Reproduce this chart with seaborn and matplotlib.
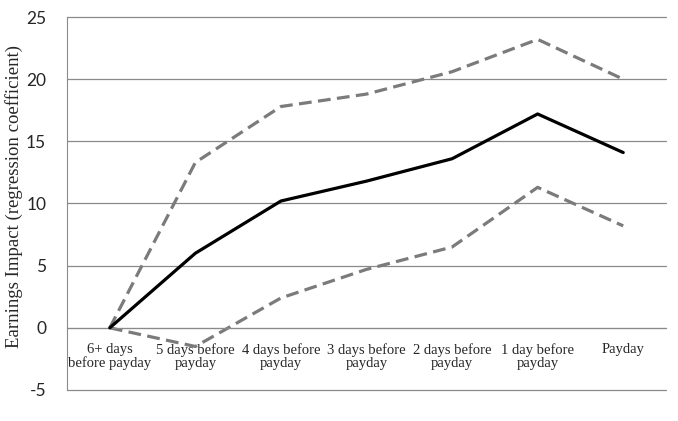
import numpy as np
import pandas as pd
import matplotlib
matplotlib.use("Agg")
import matplotlib.pyplot as plt
import seaborn as sns

categories = ["6+ days\nbefore payday", "5 days before\npayday", "4 days before\npayday",
              "3 days before\npayday", "2 days before\npayday", "1 day before\npayday", "Payday"]
estimate = [0, 6.0, 10.2, 11.8, 13.6, 17.2, 14.1]
upper_ci = [0, 13.3, 17.8, 18.8, 20.6, 23.2, 20.0]
lower_ci = [0, -1.5, 2.4, 4.7, 6.5, 11.3, 8.2]
y_ticks = [-5, 0, 5, 10, 15, 20, 25]

sns.set_style("white")
plt.rcParams['font.family'] = ['Liberation Serif', 'DejaVu Serif']

df = pd.DataFrame({'pos': np.arange(len(categories)),
                   'estimate': estimate, 'upper': upper_ci, 'lower': lower_ci})

fig = plt.figure(figsize=(6.78, 4.21), dpi=100)
ax = fig.add_axes([67/678, 1 - 390/421, (666 - 67)/678, (390 - 17)/421])

grid_col = '#8a8a8a'
for y in y_ticks:
    ax.axhline(y, color=grid_col, lw=0.9, zorder=0, clip_on=False)

sns.lineplot(data=df, x='pos', y='upper', ax=ax, color='#7b7b7b', lw=2.3, zorder=2)
ax.lines[-1].set_dashes((4, 2))
sns.lineplot(data=df, x='pos', y='lower', ax=ax, color='#7b7b7b', lw=2.3, zorder=2)
ax.lines[-1].set_dashes((4, 2))
sns.lineplot(data=df, x='pos', y='estimate', ax=ax, color='black', lw=2.3, zorder=3)

ax.set_xlim(-0.5, len(categories) - 0.5)
ax.set_ylim(-5, 25)

# x axis sits on the zero line, ticks between categories
ax.spines['bottom'].set_position(('data', 0))
ax.spines['bottom'].set_color(grid_col)
ax.spines['left'].set_color(grid_col)
ax.spines['top'].set_visible(False)
ax.spines['right'].set_visible(False)

ax.set_xticks(df['pos'])
ax.set_xticklabels(categories, fontsize=10.5, linespacing=1.05)
ax.set_xticks(np.arange(-0.5, len(categories)), minor=True)
ax.tick_params(axis='x', which='major', length=0, pad=11)
ax.tick_params(axis='x', which='minor', length=4, direction='out', color=grid_col, width=0.9)

ax.set_yticks(y_ticks)
ax.set_yticklabels([str(v) for v in y_ticks], fontsize=12.5, family=['Lato', 'DejaVu Sans'])
ax.tick_params(axis='y', length=0, pad=15)

ax.set_xlabel('')
ax.set_ylabel('Earnings Impact (regression coefficient)', fontsize=13.5)
ax.yaxis.set_label_coords((23 - 67) / 599, 0.52)

fig.savefig('out.png', dpi=100)
